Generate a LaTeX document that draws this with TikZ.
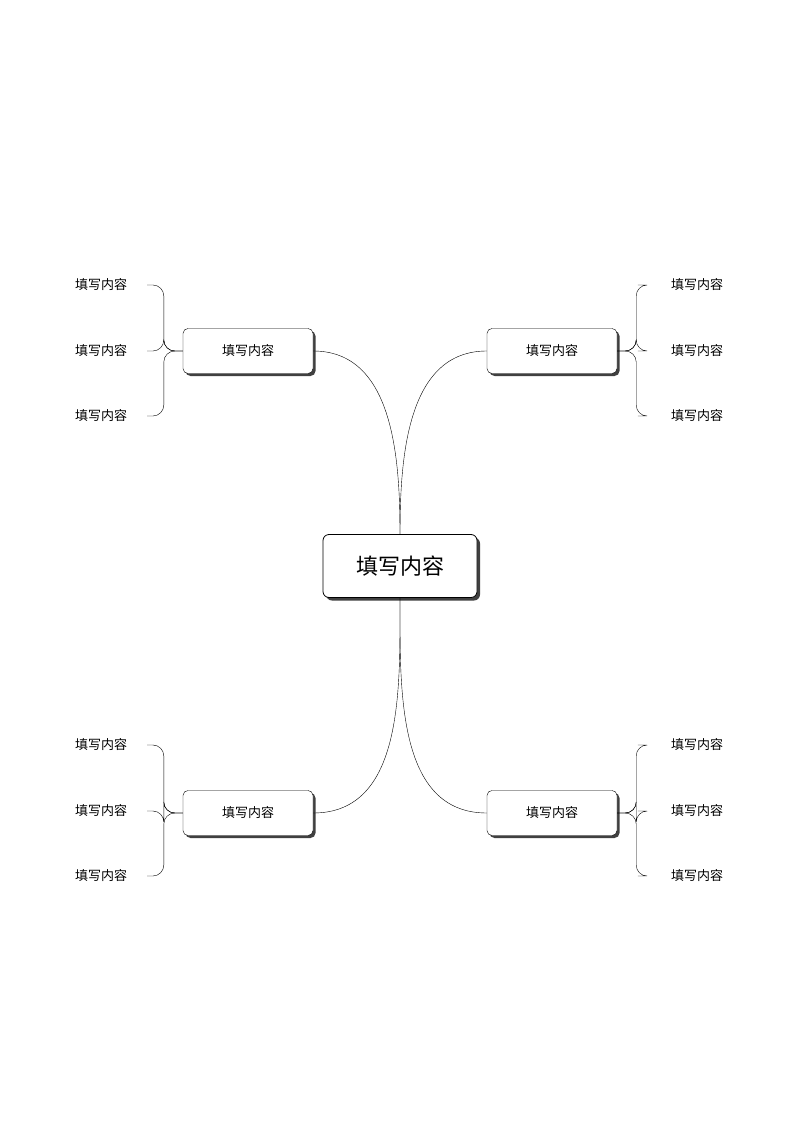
\documentclass[tikz,border=0pt]{standalone}
\usepackage{fontspec}
\newfontfamily\cjk{Noto Sans CJK SC}
\usetikzlibrary{shadows, calc}
\tikzset{
  mainbox/.style={
    rectangle, draw, rounded corners=6pt, fill=white, thick,
    minimum width=154pt, minimum height=63pt, font=\cjk\fontsize{22}{26}\selectfont,
    drop shadow={shadow xshift=3pt, shadow yshift=-3pt, fill=black!75, opacity=1}
  },
  subbox/.style={
    rectangle, draw, rounded corners=5pt, fill=white,
    minimum width=130pt, minimum height=45pt, font=\cjk\fontsize{13}{16}\selectfont,
    drop shadow={shadow xshift=2.5pt, shadow yshift=-2.5pt, fill=black!75, opacity=1}
  },
  leaf/.style={font=\cjk\fontsize{13}{16}\selectfont, inner sep=0pt},
  branch/.style={thin},
  brace/.style={thin, rounded corners=11pt}
}
\begin{document}
\begin{tikzpicture}[x=1pt, y=1pt]
  \useasboundingbox (0,0) rectangle (800,-1131);
  \node[mainbox] (center) at (400,-566) {填写内容};
  \node[subbox] (tl) at (248,-351) {填写内容};
  \node[subbox] (tr) at (552,-351) {填写内容};
  \node[subbox] (bl) at (248,-813) {填写内容};
  \node[subbox] (br) at (552,-813) {填写内容};

  % main branches
  \draw[branch] (center.north) to[out=90, in=0] (tl.east);
  \draw[branch] (center.north) to[out=90, in=180] (tr.west);
  \draw[branch] (center.south) to[out=-90, in=0] (bl.east);
  \draw[branch] (center.south) to[out=-90, in=180] (br.west);

  % leaves
  \foreach \b/\y/\s in {tl/-351/l, bl/-811/l, tr/-351/r, br/-811/r} {
    \foreach \d [count=\i] in {66, 0, -65} {
      \if\s l
        \node[leaf] (\b-\i) at (101,\y+\d) {填写内容};
        \draw[brace] ($(\b-\i.east)+(20,0)$) -| ([xshift=-19]\b.west) -- (\b.west);
      \else
        \node[leaf] (\b-\i) at (697,\y+\d) {填写内容};
        \draw[brace] ($(\b-\i.west)+(-33,0)$) -| ([xshift=19]\b.east) -- (\b.east);
      \fi
    }
  }
\end{tikzpicture}
\end{document}
